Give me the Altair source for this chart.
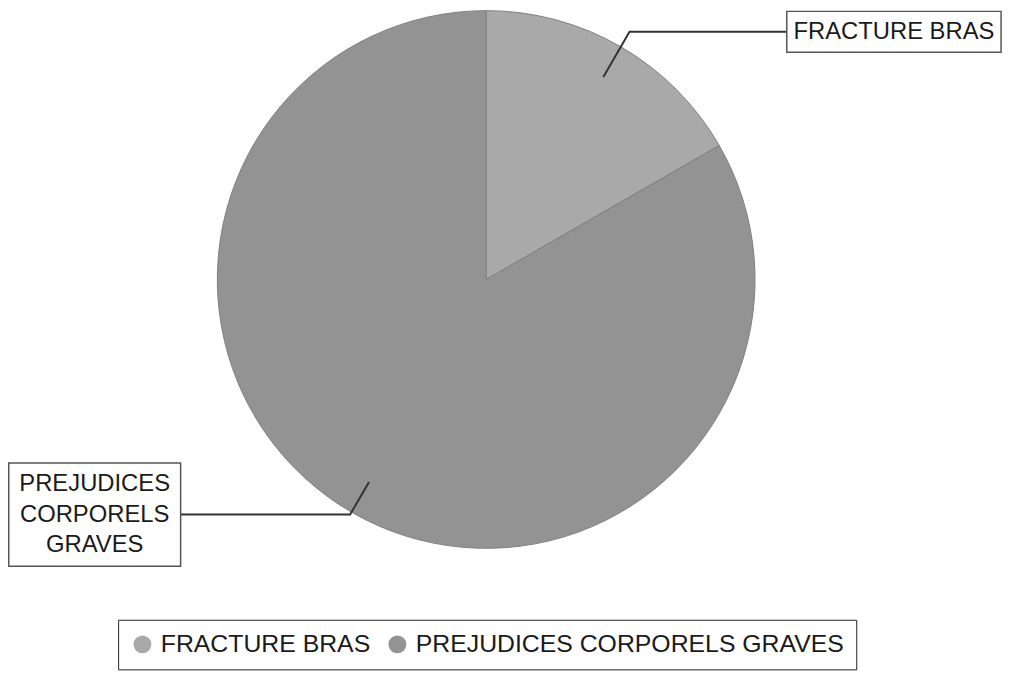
import math
import pandas as pd
import altair as alt

# ---- data ----
categories = ["FRACTURE BRAS", "PREJUDICES CORPORELS GRAVES"]
values = [16.7, 83.3]
box_texts = ["FRACTURE BRAS", "PREJUDICES\nCORPORELS\nGRAVES"]
colors = ["#a9a9a9", "#939393"]

# ---- layout (pixels inside the chart) ----
W, H = 1010, 665
CX, CY, R = 482, 271, 271
BOXES = {
    "FRACTURE BRAS": (785, 1001, 0.75, 42),
    "PREJUDICES CORPORELS GRAVES": (0.75, 174, 456, 560),
}
FONT = "Liberation Sans"
LINE_H = 30.5

pie_df = pd.DataFrame({"cat": categories, "value": values, "idx": range(len(categories))})

# leader lines derived from slice mid-angles
total = sum(values)
rows, box_rows = [], []
start = 0.0
for cat, v, txt in zip(categories, values, box_texts):
    mid = (start + v / 2) / total * 2 * math.pi
    start += v
    x0, x1, y0, y1 = BOXES[cat]
    yb = (y0 + y1) / 2
    ax = CX + 0.87 * R * math.sin(mid)
    ay = CY - 0.87 * R * math.cos(mid)
    t = (CY - yb) / math.cos(mid)
    ex = CX + t * math.sin(mid)
    endx = x0 if ex > CX else x1
    for s, (px, py) in enumerate([(ax, ay), (ex, yb), (endx, yb)]):
        rows.append({"cat": cat, "seq": s, "x": px, "y": py})
    n_lines = txt.count("\n") + 1
    box_rows.append({"cat": cat, "txt": txt, "x0": x0, "x1": x1, "y0": y0, "y1": y1,
                     "xc": (x0 + x1) / 2, "yc": yb,
                     "ty": yb - (n_lines - 1) / 2 * LINE_H})
lead_df = pd.DataFrame(rows)
box_df = pd.DataFrame(box_rows)

xs = alt.Scale(domain=[0, W], range=[0, W], nice=False, zero=False)
ys = alt.Scale(domain=[0, H], range=[0, H], nice=False, zero=False)

pie = alt.Chart(pie_df).mark_arc(outerRadius=R, stroke="#808080", strokeWidth=1).encode(
    theta=alt.Theta("value:Q", stack=True),
    order=alt.Order("idx:O"),
    color=alt.Color(
        "cat:N",
        scale=alt.Scale(domain=categories, range=colors),
        sort=categories,
        legend=alt.Legend(
            title=None, orient="none", legendX=111, legendY=614,
            direction="horizontal", symbolType="circle", symbolSize=324,
            symbolStrokeWidth=0, labelFontSize=25, labelFont=FONT,
            labelColor="#1a1a1a", labelOffset=6, columnPadding=14,
            padding=12, strokeColor="#222222", labelLimit=700,
        ),
    ),
    x=alt.value(CX),
    y=alt.value(CY),
)

leaders = alt.Chart(lead_df).mark_line(color="#333333", strokeWidth=2).encode(
    x=alt.X("x:Q", scale=xs, axis=None),
    y=alt.Y("y:Q", scale=ys, axis=None),
    detail="cat:N",
    order=alt.Order("seq:Q"),
)

boxes = alt.Chart(box_df).mark_rect(fill="white", stroke="#555555", strokeWidth=1.5).encode(
    x=alt.X("x0:Q", scale=xs, axis=None),
    x2="x1:Q",
    y=alt.Y("y0:Q", scale=ys, axis=None),
    y2="y1:Q",
)

texts = alt.Chart(box_df).mark_text(
    font=FONT, fontSize=24, color="#1a1a1a", align="center", baseline="middle",
    lineBreak="\n", lineHeight=LINE_H,
).encode(
    x=alt.X("xc:Q", scale=xs, axis=None),
    y=alt.Y("ty:Q", scale=ys, axis=None),
    text="txt:N",
)

chart = alt.layer(pie, leaders, boxes, texts).properties(
    width=W, height=H, padding=0, autosize=alt.AutoSizeParams(type="none"),
).configure_view(stroke=None)

chart.save("out.html", embed_options={"renderer": "svg", "actions": False})
